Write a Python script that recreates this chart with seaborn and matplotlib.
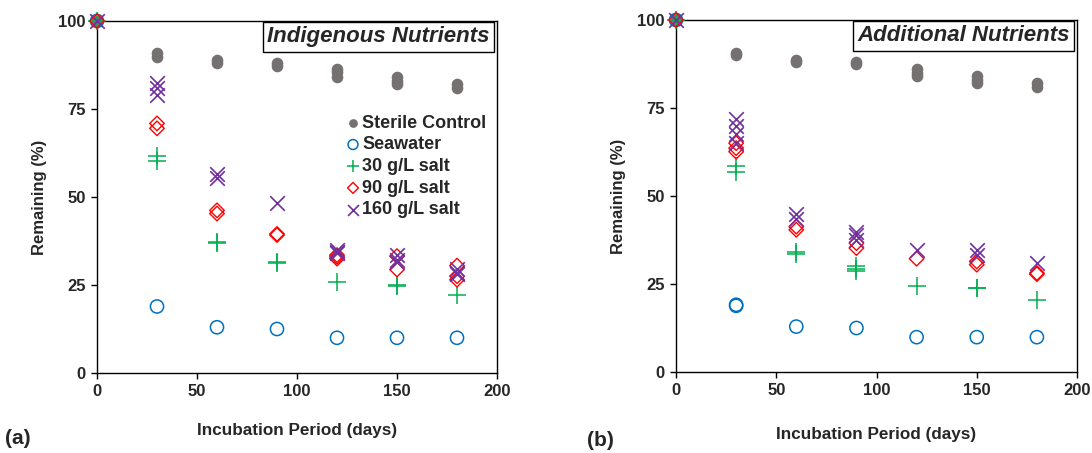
import matplotlib
matplotlib.use("Agg")
import matplotlib.pyplot as plt
import seaborn as sns
import pandas as pd

days = [0, 30, 60, 90, 120, 150, 180]

# replicate readings per day, panel (a) Indigenous Nutrients
a_sterile = [[100], [89.8, 91.0], [88.0, 89.0], [87.2, 88.2], [84.0, 85.5, 86.5], [82.0, 83.0, 84.0], [81.0, 82.0]]
a_seawater = [[100], [18.9], [13.0], [12.5], [10.0], [10.0], [10.0]]
a_30 = [[100], [61.6, 60.2], [36.8, 37.2], [31.6, 31.3], [25.8], [25.1, 24.8], [22.3]]
a_90 = [[100], [70.9, 69.5], [46.2, 45.3], [39.5, 39.2], [33.5, 32.5, 33.0], [33.2, 29.4], [30.5, 26.5, 27.5]]
a_160 = [[100], [82.5, 81.0, 79.1], [56.4, 55.5], [48.2], [35.0, 34.5, 34.0], [33.5, 32.0, 31.5], [29.5, 28.0, 28.5]]

# panel (b) Additional Nutrients
b_sterile = [[100], [90.5, 90.0], [88.5, 88.0], [87.5, 88.0], [84.0, 85.0, 86.0], [82.0, 83.0, 84.0], [81.0, 82.0]]
b_seawater = [[100], [19.1, 18.8], [12.9], [12.5], [9.9], [9.9], [9.9]]
b_30 = [[100], [58.6, 56.9], [34.2, 33.6], [30.0, 28.6, 29.3], [24.3], [23.8, 24.0], [20.5]]
b_90 = [[100], [65.0, 63.6, 62.6], [41.3, 40.4], [36.6, 35.2], [32.2], [31.4, 30.5], [28.1, 27.8]]
b_160 = [[100], [71.8, 70.0, 67.6, 65.0], [44.9, 43.5], [39.9, 39.0, 37.5], [34.6], [34.6, 33.2], [30.9]]

series_names = ["Sterile Control", "Seawater", "30 g/L salt", "90 g/L salt", "160 g/L salt"]
panel_titles = ["Indigenous Nutrients", "Additional Nutrients"]
panel_tags = ["(a)", "(b)"]

styles = {
    "Sterile Control": dict(marker="o", color="#767171", s=70, filled=True, lw=0),
    "Seawater": dict(marker="o", color="#0070C0", s=90, filled=False, lw=1.1),
    "30 g/L salt": dict(marker="+", color="#00B050", s=150, filled=True, lw=1.1),
    "90 g/L salt": dict(marker="D", color="#FF0000", s=55, filled=False, lw=1.0),
    "160 g/L salt": dict(marker="x", color="#7030A0", s=110, filled=True, lw=1.2),
}


def to_df(groups):
    rows = []
    for name, reps in zip(series_names, groups):
        for d, vals in zip(days, reps):
            for v in vals:
                rows.append({"day": d, "value": v, "series": name})
    return pd.DataFrame(rows)


panels = [
    to_df([a_sterile, a_seawater, a_30, a_90, a_160]),
    to_df([b_sterile, b_seawater, b_30, b_90, b_160]),
]

sns.set_style("white")
plt.rcParams["font.family"] = ["Liberation Sans", "DejaVu Sans"]

fig = plt.figure(figsize=(10.92, 4.53), dpi=100)
axes_pos = [
    [97 / 1092, 1 - 373 / 453, 400 / 1092, 352 / 453],
    [676 / 1092, 1 - 372 / 453, 401 / 1092, 352 / 453],
]
tag_x = [5 / 1092, 587 / 1092]
tag_y = [438, 441]
xlabel_pad = [17, 21]

for i, df in enumerate(panels):
    ax = fig.add_axes(axes_pos[i])
    for name in series_names:
        st = styles[name]
        sub = df[df["series"] == name]
        kw = dict(marker=st["marker"], s=st["s"], linewidth=st["lw"], clip_on=False, zorder=3)
        if st["filled"]:
            kw.update(color=st["color"])
            if st["marker"] in ("+", "x"):
                kw.update(edgecolor=st["color"])
        else:
            kw.update(facecolor="none", edgecolor=st["color"])
        sns.scatterplot(data=sub, x="day", y="value", ax=ax, label=name, legend=False, **kw)
    ax.set_xlim(0, 200)
    ax.set_ylim(0, 100)
    ax.set_xticks([0, 50, 100, 150, 200])
    ax.set_yticks([0, 25, 50, 75, 100])
    for sp in ax.spines.values():
        sp.set_color("black")
        sp.set_linewidth(1.0)
    ax.tick_params(direction="out", length=4, width=1, color="black", labelsize=12, pad=4,
                   bottom=True, left=True)
    for lab in ax.get_xticklabels() + ax.get_yticklabels():
        lab.set_fontweight("bold")
    ax.set_xlabel("Incubation Period (days)", fontsize=12.3, fontweight="bold", labelpad=xlabel_pad[i])
    ax.set_ylabel("Remaining (%)", fontsize=12, fontweight="bold", labelpad=8)
    ax.text(0.982, 0.955, panel_titles[i], transform=ax.transAxes, ha="right", va="center",
            fontsize=16, fontweight="bold", fontstyle="italic", zorder=5,
            bbox=dict(boxstyle="square,pad=0.2", fc="white", ec="black", lw=1.0))
    fig.text(tag_x[i], 1 - tag_y[i] / 453, panel_tags[i], fontsize=15, fontweight="bold", va="center")
    if i == 0:
        handles, labels = ax.get_legend_handles_labels()
        leg = ax.legend(handles, labels, loc="upper right", bbox_to_anchor=(1.0, 0.765), frameon=False,
                        prop=dict(size=13, weight="bold"), handletextpad=0.0, labelspacing=0.26,
                        borderaxespad=0.2, handlelength=1.0, markerscale=0.75)

fig.savefig("out.png", dpi=100)
